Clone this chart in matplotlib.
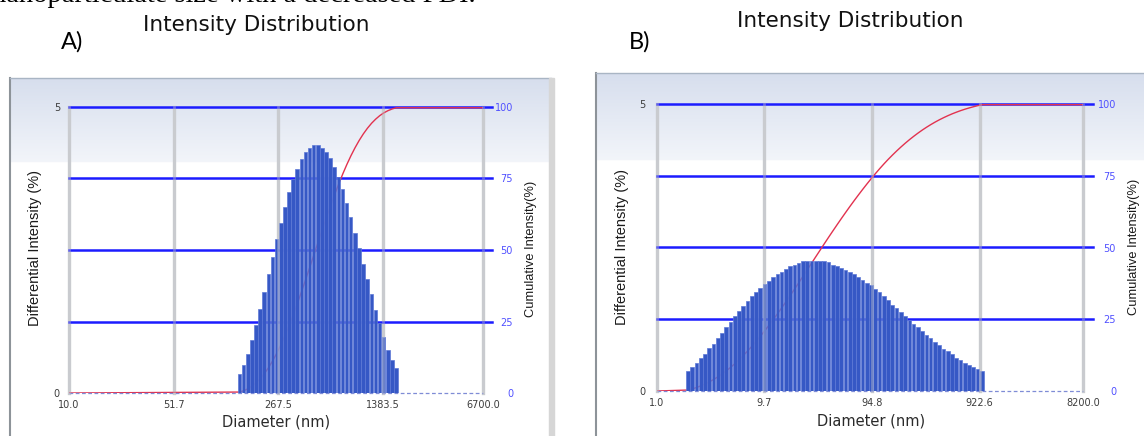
import numpy as np
import matplotlib.pyplot as plt
from matplotlib.ticker import FixedLocator, NullLocator
from matplotlib.patches import Rectangle

# panel A: differential intensity (%) per size bin
a_diff = [0.33, 0.49, 0.69, 0.93, 1.19, 1.46, 1.77, 2.08, 2.38, 2.69,
          2.97, 3.26, 3.51, 3.74, 3.92, 4.09, 4.22, 4.29, 4.34, 4.34,
          4.29, 4.22, 4.10, 3.95, 3.77, 3.56, 3.33, 3.08, 2.80, 2.54,
          2.26, 1.99, 1.73, 1.45, 1.23, 0.98, 0.76, 0.58, 0.43]
a_bin_range = (142.0, 1770.0)   # nm, outer edges of the first / last bin
a_xlim = (10.0, 6700.0)
a_ticks = [10.0, 51.7, 267.5, 1383.5, 6700.0]
a_ticklabels = ["10.0", "51.7", "267.5", "1383.5", "6700.0"]

# panel B
b_diff = [0.34, 0.42, 0.48, 0.58, 0.65, 0.75, 0.82, 0.93, 1.01, 1.11,
          1.20, 1.30, 1.39, 1.48, 1.56, 1.65, 1.72, 1.79, 1.86, 1.92,
          1.98, 2.04, 2.08, 2.13, 2.18, 2.20, 2.23, 2.26, 2.27, 2.27,
          2.27, 2.26, 2.26, 2.24, 2.20, 2.18, 2.15, 2.11, 2.08, 2.03,
          1.98, 1.94, 1.89, 1.84, 1.78, 1.72, 1.65, 1.58, 1.50, 1.44,
          1.37, 1.31, 1.24, 1.17, 1.11, 1.05, 0.98, 0.92, 0.86, 0.80,
          0.74, 0.69, 0.64, 0.58, 0.54, 0.49, 0.45, 0.41, 0.38, 0.34]
b_bin_range = (1.85, 1013.0)
b_xlim = (1.0, 8200.0)
b_ticks = [1.0, 9.7, 94.8, 922.6, 8200.0]
b_ticklabels = ["1.0", "9.7", "94.8", "922.6", "8200.0"]

diff_ticks = [0, 5]
cum_ticks = [0, 25, 50, 75, 100]

W, H = 1144, 436
BAR = "#3658c5"
RED = "#e2324f"
GRID_BLUE = "#1c1cff"
GRID_GRAY = "#c9cbcf"


def px_box(x0, y0, x1, y1):
    """Figure fraction rect from pixel corners (origin top-left)."""
    return [x0 / W, 1 - y1 / H, (x1 - x0) / W, (y1 - y0) / H]


def panel_background(fig, x0, y0, x1, y1, grad_px):
    bg = fig.add_axes(px_box(x0, y0, x1, y1))
    rows = int(y1 - y0)
    top = np.array([0.84, 0.87, 0.93])
    low = np.array([0.95, 0.96, 0.98])
    img = np.ones((rows, 1, 3))
    t = np.linspace(0, 1, grad_px)[:, None]
    img[:grad_px, 0, :] = top * (1 - t) + low * t
    bg.imshow(img, aspect="auto", extent=[0, 1, 0, 1], interpolation="bilinear")
    bg.set_xticks([])
    bg.set_yticks([])
    bg.spines["right"].set_visible(False)
    bg.spines["bottom"].set_visible(False)
    bg.spines["left"].set_color("#8d9399")
    bg.spines["left"].set_linewidth(1.5)
    bg.spines["top"].set_color("#a9b5c4")
    bg.spines["top"].set_linewidth(1.0)
    return bg


def draw_panel(fig, rect, diff, bin_range, xlim, ticks, ticklabels,
               left_pad, right_pad, ext):
    host = fig.add_axes(rect)          # cumulative axis (0-100), drawn first
    host.patch.set_alpha(0)
    twin = host.twinx()                # differential axis (0-5), over it
    host.yaxis.tick_right()
    twin.yaxis.tick_left()

    diff = np.asarray(diff)
    edges = np.geomspace(bin_range[0], bin_range[1], len(diff) + 1)
    centers = np.sqrt(edges[:-1] * edges[1:])
    cum = np.cumsum(diff)

    host.set_xscale("log")
    host.set_xlim(*xlim)
    host.set_ylim(0, 100)
    twin.set_ylim(0, 5)

    # horizontal grid and cumulative curve sit behind the bars
    for v in cum_ticks[1:]:
        host.plot([xlim[0], xlim[1]], [v, v], color=GRID_BLUE, lw=1.8,
                  zorder=1, clip_on=False)
        host.plot([1, 1 + ext], [v, v], transform=host.get_yaxis_transform(),
                  color=GRID_BLUE, lw=1.8, zorder=1, clip_on=False)
    for v in ticks:
        host.axvline(v, color=GRID_GRAY, lw=2.4, zorder=0.5, clip_on=False)
    host.plot(np.r_[xlim[0], centers, xlim[1]], np.r_[0, cum, cum[-1]],
              color=RED, lw=1.0, zorder=2)
    host.plot(xlim, [0, 0], color="#7f8cd6", lw=0.9, ls=(0, (3, 2)),
              zorder=3, clip_on=False)
    host.set_xlim(*xlim)
    host.set_ylim(0, 100)

    twin.bar(edges[:-1], diff, width=(edges[1:] - edges[:-1]) * 0.86,
             align="edge", color=BAR, edgecolor="#5d78d6", lw=0.5, zorder=2)
    # vertical grid shows faintly through the bars
    for v in ticks:
        twin.axvline(v, color=GRID_GRAY, lw=2.0, alpha=0.4, zorder=3,
                     clip_on=False)
    twin.set_ylim(0, 5)

    host.xaxis.set_major_locator(FixedLocator(ticks))
    host.xaxis.set_minor_locator(NullLocator())
    host.set_xticklabels(ticklabels)
    host.tick_params(axis="x", length=0, labelsize=7, labelcolor="#3c3c3c",
                     pad=5)

    host.set_yticks(cum_ticks)
    host.tick_params(axis="y", length=0, labelsize=7, labelcolor="#5050ff",
                     pad=right_pad)
    for lab in host.get_yticklabels():
        lab.set_ha("right")

    twin.set_yticks(diff_ticks)
    twin.tick_params(axis="y", length=0, labelsize=7, labelcolor="#3c3c3c",
                     pad=left_pad)

    for ax in (host, twin):
        for s in ax.spines.values():
            s.set_visible(False)
    return host, twin


fig = plt.figure(figsize=(W / 100, H / 100), dpi=100)

# cut-off line of body text above the figure (only its lower edge shows)
fig.text(-8 / W, 1 - 2.5 / H, "nanoparticulate size with a decreased PDI.",
         family=["Liberation Serif", "DejaVu Serif"], fontsize=20.5,
         va="baseline", ha="left")

panel_background(fig, 10, 78, 551, 440, 85)
fig.patches.append(Rectangle((549 / W, 0), 5 / W, 1 - 78 / H,
                             transform=fig.transFigure, color="#d6d6d6",
                             zorder=5))
panel_background(fig, 596, 73, 1150, 440, 88)

draw_panel(fig, px_box(69, 107, 483, 393), a_diff, a_bin_range, a_xlim,
           a_ticks, a_ticklabels, left_pad=6.5, right_pad=21.6, ext=0.022)
draw_panel(fig, px_box(657, 104, 1083, 391), b_diff, b_bin_range, b_xlim,
           b_ticks, b_ticklabels, left_pad=8, right_pad=23.8, ext=0.023)

title_kw = dict(ha="center", va="center", fontsize=15.5, color="#111111",
                family="DejaVu Sans")
fig.text(256 / W, 1 - 25 / H, "Intensity Distribution", **title_kw)
fig.text(850 / W, 1 - 21 / H, "Intensity Distribution", **title_kw)

tag_kw = dict(ha="center", va="center", fontsize=17, color="black",
              family=["Lato", "DejaVu Sans"])
fig.text(72 / W, 1 - 42 / H, "A)", **tag_kw)
fig.text(640 / W, 1 - 42 / H, "B)", **tag_kw)

ylab_kw = dict(ha="center", va="center", rotation=90, color="#1a1a1a",
               family=["Liberation Sans", "DejaVu Sans"])
fig.text(35.5 / W, 1 - 248 / H, "Differential Intensity (%)", fontsize=10.5,
         **ylab_kw)
fig.text(622 / W, 1 - 247 / H, "Differential Intensity (%)", fontsize=10.5,
         **ylab_kw)
fig.text(531 / W, 1 - 249 / H, "Cumulative Intensity(%)", fontsize=9.3,
         **ylab_kw)
fig.text(1134 / W, 1 - 247 / H, "Cumulative Intensity(%)", fontsize=9.3,
         **ylab_kw)

xlab_kw = dict(ha="center", va="center", fontsize=10.5, color="#2a2a2a",
               family="DejaVu Sans")
fig.text(276 / W, 1 - 422 / H, "Diameter (nm)", **xlab_kw)
fig.text(871 / W, 1 - 421 / H, "Diameter (nm)", **xlab_kw)

fig.savefig("out.png", dpi=100)
